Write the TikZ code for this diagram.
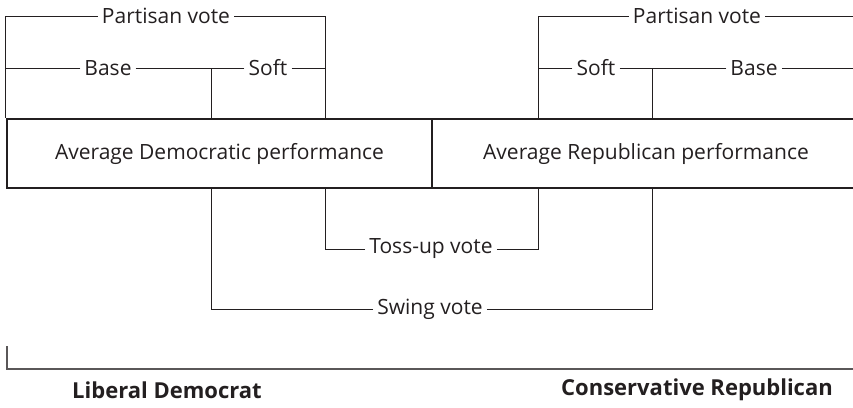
\documentclass[tikz,border=0pt]{standalone}
\usepackage{fontspec}
\setmainfont{Open Sans}
\begin{document}
\begin{tikzpicture}[x=1pt,y=-1pt,
  lbl/.style={inner xsep=4pt, inner ysep=0pt, text=ink, font=\fontsize{21}{24}\selectfont},
  axlbl/.style={inner sep=0pt, text=ink, font=\fontsize{22}{25}\selectfont\bfseries},
  perf/.style={draw=ink, line width=2.6pt, minimum height=69pt, inner sep=0pt, text=ink, font=\fontsize{21}{24}\selectfont},
  conn/.style={draw=ink, line width=0.9pt},
  axis/.style={draw=ink!75, line width=1.4pt}]
\definecolor{ink}{HTML}{231F20}
\useasboundingbox (0,0) rectangle (853,407);
% boxes
\node[perf, minimum width=425pt] (boxD) at (219.5,153.5) {Average Democratic performance};
\node[perf, minimum width=428pt] (boxR) at (646,153.5) {Average Republican performance};
% anchor points on boxes
\coordinate (dB) at (211,119);
\coordinate (dS) at (325,119);
\coordinate (rS) at (538,119);
\coordinate (rB) at (652,119);
\coordinate (dBb) at (211,188);
\coordinate (dSb) at (325,188);
\coordinate (rSb) at (538,188);
\coordinate (rBb) at (652,188);
\coordinate (E) at (860,0);
% labels
\node[lbl] (pvL) at (166,16) {Partisan vote};
\node[lbl] (baseL) at (108,68) {Base};
\node[lbl] (softL) at (268,68) {Soft};
\node[lbl] (pvR) at (697,16) {Partisan vote};
\node[lbl] (softR) at (596,68) {Soft};
\node[lbl] (baseR) at (754,68) {Base};
\node[lbl] (toss) at (431,249) {Toss-up vote};
\node[lbl] (swing) at (430,309) {Swing vote};
% left connectors
\draw[conn] (pvL.west) -| (boxD.north west);
\draw[conn] (pvL.east) -| (dS);
\draw[conn] (baseL.west) -- (baseL -| boxD.north west);
\draw[conn] (baseL.east) -| (dB);
\draw[conn] (softL.west) -- (softL -| dB);
\draw[conn] (softL.east) -- (softL -| dS);
% right connectors
\draw[conn] (pvR.west) -| (rS);
\draw[conn] (pvR.east) -- (pvR -| E);
\draw[conn] (softR.west) -- (softR -| rS);
\draw[conn] (softR.east) -| (rB);
\draw[conn] (baseR.west) -- (baseR -| rB);
\draw[conn] (baseR.east) -- (baseR -| E);
% bottom connectors
\draw[conn] (toss.west) -| (dSb);
\draw[conn] (toss.east) -| (rSb);
\draw[conn] (swing.west) -| (dBb);
\draw[conn] (swing.east) -| (rBb);
% axis
\coordinate (a0) at (7,346);
\coordinate (a1) at (7,369);
\coordinate (a2) at (860,369);
\draw[axis] (a0) -- (a1) -- (a2);
\node[axlbl] (lib) at (167,390) {Liberal Democrat};
\node[axlbl] (con) at (697,390) {Conservative Republican};
\end{tikzpicture}
\end{document}
